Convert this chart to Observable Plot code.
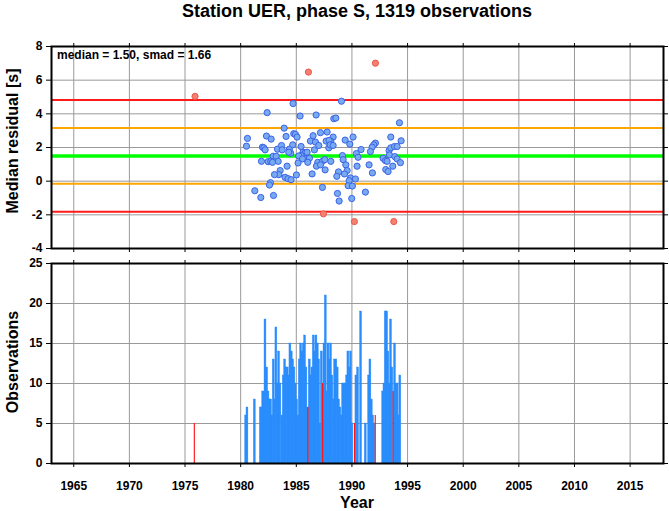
<!DOCTYPE html>
<html><head><meta charset="utf-8">
<script src="https://cdn.jsdelivr.net/npm/d3@7"></script>
<script src="https://cdn.jsdelivr.net/npm/@observablehq/plot@0.6"></script>
<style>
html,body{margin:0;padding:0;background:#fff;}
#wrap{position:relative;width:669px;height:511px;overflow:hidden;background:#fff;}
#wrap svg{position:absolute;left:0;}
</style></head><body>
<div id="wrap"></div>
<script>
// ---------- data ----------
const xTicks = [1965, 1970, 1975, 1980, 1985, 1990, 1995, 2000, 2005, 2010, 2015];
const resTicks = [-4, -2, 0, 2, 4, 6, 8];
const obsTicks = [0, 5, 10, 15, 20, 25];

const titleText = "Station UER, phase S, 1319 observations";
const statText = "median = 1.50, smad = 1.66";

// reference levels: median, median ± smad, median ± 2 smad
const levelValues = [4.82, 3.16, 1.50, -0.16, -1.82];
const levelKinds  = ["2smad", "1smad", "median", "1smad", "2smad"];

// median residuals (inside 2 smad)
const ptYear = [1984.71,1989.06,1982.38,1985.34,1986.78,1988.37,1988.55,1994.27,1983.91,1980.61,
1982.32,1982.74,1984.77,1984.92,1985.07,1984.08,1986.51,1987.17,1987.77,1988.31,
1988.10,1990.10,1989.39,1989.81,1993.49,1994.42,1980.52,1981.96,1982.08,1982.20,
1983.31,1983.67,1983.73,1984.38,1984.68,1986.27,1986.72,1986.63,1987.02,1987.68,
1987.95,1987.92,1988.04,1988.31,1985.43,1985.61,1985.79,1985.97,1984.50,1984.32,
1982.92,1983.19,1985.43,1985.22,1985.85,1986.18,1985.55,1992.11,1991.96,1991.81,
1991.66,1990.82,1990.40,1990.55,1993.34,1993.49,1993.82,1994.06,1993.37,1993.85,
1994.06,1994.36,1992.80,1993.01,1993.16,1989.15,1989.21,1989.45,1981.87,1982.47,
1982.71,1983.37,1982.86,1984.17,1985.16,1986.03,1986.93,1987.35,1987.56,1988.10,
1986.81,1987.17,1989.57,1988.79,1988.64,1989.33,1990.46,1991.54,1993.67,1993.04,
1993.25,1991.84,1983.55,1983.43,1983.04,1985.01,1986.42,1987.59,1983.99,1984.26,
1984.53,1989.87,1990.31,1989.75,1989.66,1990.04,1982.68,1982.59,1981.27,1981.81,
1982.95,1987.35,1988.70,1988.85,1989.98,1991.21];
const ptRes = [4.61,4.75,4.07,3.87,3.93,3.71,3.75,3.47,3.15,2.54,
2.68,2.50,2.82,2.78,2.62,2.66,2.70,2.88,2.92,2.62,
2.38,2.62,2.44,2.20,2.62,2.40,2.08,2.02,1.98,1.86,
1.90,2.12,1.86,1.90,2.16,2.38,2.32,1.86,2.12,2.38,
2.42,1.98,2.16,2.12,2.06,1.72,1.68,1.72,1.66,1.72,
1.48,1.48,1.52,1.50,1.32,1.36,1.32,2.26,2.16,2.02,
1.76,1.88,1.64,1.42,1.82,1.98,2.06,2.06,1.56,1.46,
1.32,1.10,1.36,1.22,1.18,1.52,1.28,0.97,1.18,1.16,
1.18,1.18,1.12,0.89,1.08,1.12,1.12,1.18,1.28,1.18,
0.89,0.97,0.63,0.55,0.29,0.43,0.89,0.97,0.89,0.69,
0.57,0.49,0.63,0.39,0.39,0.37,0.43,0.67,0.23,0.15,
0.09,0.19,0.13,0.03,-0.27,-0.29,-0.09,-0.23,-0.57,-0.97,
-0.85,-0.37,-0.73,-1.18,-1.03,-0.65];

// outliers (beyond 2 smad)
const outYear = [1975.90, 1986.09, 1992.11, 1987.44, 1990.22, 1993.76];
const outRes  = [5.04, 6.48, 7.01, -1.94, -2.40, -2.40];

// observations per time bin
const barYear = [1980.49,1980.61,1981.27,1981.81,1981.93,1982.02,1982.14,1982.23,1982.38,1982.50,
1982.62,1982.73,1982.85,1982.97,1983.09,1983.21,1983.33,1983.45,1983.57,1983.75,
1983.87,1983.99,1984.11,1984.23,1984.35,1984.47,1984.59,1984.71,1984.83,1984.95,
1985.07,1985.19,1985.31,1985.43,1985.55,1985.67,1985.79,1985.91,1986.03,1986.21,
1986.33,1986.45,1986.57,1986.69,1986.81,1986.93,1987.05,1987.17,1987.29,1987.53,
1987.65,1987.77,1987.89,1988.00,1988.12,1988.24,1988.36,1988.48,1988.60,1988.72,
1988.84,1988.96,1989.08,1989.20,1989.32,1989.44,1989.56,1989.68,1989.80,1989.92,
1990.04,1990.40,1990.55,1990.82,1991.24,1991.54,1991.66,1991.78,1991.90,1992.02,
1992.80,1992.92,1993.04,1993.16,1993.27,1993.39,1993.51,1993.63,1993.87,1993.99,
1994.11,1994.23,1994.35];
const barCount = [6,7,8,7,7,9,9,18,12,9,
8,8,6,13,8,17,10,14,10,6,
11,13,12,12,11,15,14,13,12,10,
8,6,13,15,14,15,16,12,7,13,
11,12,16,14,16,15,13,5,14,15,
21,9,15,13,15,11,8,13,13,12,
8,7,6,10,10,10,11,14,12,14,
5,11,12,19,5,11,13,8,6,5,
9,10,19,19,14,10,18,12,15,10,
10,6,11];
const redBarYear  = [1975.88, 1986.09, 1987.41, 1990.27, 1992.14, 1993.75];
const redBarCount = [5, 7, 10, 5, 6, 9];

// ---------- build ----------
const W = 669, ML = 51, MR = 6;
const font = "'Liberation Sans', Arial, Helvetica, sans-serif";
const levelColor = {"2smad": "#ff1a1a", "1smad": "#ffa500", "median": "#00ff00"};
const levelWidth = {"2smad": 2, "1smad": 2, "median": 3.5};
const pts = ptYear.map((y, i) => ({year: y, res: ptRes[i]}));
const outs = outYear.map((y, i) => ({year: y, res: outRes[i]}));
const levels = levelValues.map((v, i) => ({v, kind: levelKinds[i]}));
const bars = barYear.map((y, i) => ({year: y, n: barCount[i]}));
const redBars = redBarYear.map((y, i) => ({year: y, n: redBarCount[i]}));
const styleStr = `font: bold 12px ${font}; color: black; background: white; overflow: visible;`;

function frameAxes(yt) {
  const blank = () => "";
  return [
    Plot.frame({stroke: "black", strokeWidth: 2}),
    Plot.axisY(yt, {anchor: "left", tickSize: 5, tickPadding: 4, label: null, tickFormat: d => String(d)}),
    Plot.axisY(yt, {anchor: "right", tickSize: 4, tickFormat: blank, label: null}),
    Plot.axisX(xTicks, {anchor: "top", tickSize: 4, tickFormat: blank, label: null})
  ];
}

const topPlot = Plot.plot({
  width: W, height: 256, marginLeft: ML, marginRight: MR, marginTop: 46, marginBottom: 8,
  style: styleStr,
  x: {domain: [1963, 2018], label: null},
  y: {domain: [-4, 8], label: null},
  marks: [
    Plot.ruleX(xTicks, {stroke: "#9a9a9a", strokeWidth: 1}),
    Plot.ruleY(resTicks, {stroke: "#9a9a9a", strokeWidth: 1}),
    Plot.ruleY(levels, {y: "v", stroke: d => levelColor[d.kind], strokeWidth: d => levelWidth[d.kind]}),
    Plot.dot(pts, {x: "year", y: "res", r: 3.1, fill: "#78aaf2", stroke: "#3a62e6", strokeWidth: 1}),
    Plot.dot(outs, {x: "year", y: "res", r: 3.1, fill: "#f57f70", stroke: "#e85a4c", strokeWidth: 1}),
    ...frameAxes(resTicks),
    Plot.axisX(xTicks, {anchor: "bottom", tickSize: 4, tickFormat: () => "", label: null})
  ]
});

const botPlot = Plot.plot({
  width: W, height: 255, marginLeft: ML, marginRight: MR, marginTop: 7, marginBottom: 48,
  style: styleStr,
  x: {domain: [1963, 2018], label: null},
  y: {domain: [0, 25], label: null},
  marks: [
    Plot.ruleX(xTicks, {stroke: "#9a9a9a", strokeWidth: 1}),
    Plot.ruleY(obsTicks, {stroke: "#9a9a9a", strokeWidth: 1}),
    Plot.rectY(bars, {x1: d => d.year - 0.085, x2: d => d.year + 0.085, y1: 0, y2: "n", inset: 0, fill: "#2a8dfd", stroke: "#2a8dfd", strokeWidth: 0.4}),
    Plot.rectY(redBars, {x1: d => d.year - 0.05, x2: d => d.year + 0.05, y1: 0, y2: "n", inset: 0, fill: "#ff1010"}),
    ...frameAxes(obsTicks),
    Plot.axisX(xTicks, {anchor: "bottom", tickSize: 4, tickPadding: 14, label: null, tickFormat: d => String(d)})
  ]
});

const wrap = document.getElementById("wrap");
topPlot.style.top = "0px";
botPlot.style.top = "256px";
wrap.appendChild(topPlot);
wrap.appendChild(botPlot);

// overlay text
const ov = d3.select(wrap).append("svg")
  .attr("width", W).attr("height", 511)
  .style("top", "0px").style("pointer-events", "none")
  .style("font-family", font).style("font-weight", "bold").attr("fill", "black");
ov.append("text").attr("x", 357).attr("y", 17).attr("text-anchor", "middle").attr("font-size", 18).text(titleText);
ov.append("text").attr("x", 57).attr("y", 59).attr("font-size", 12).text(statText);
ov.append("text").attr("transform", "translate(17.5,141) rotate(-90)").attr("text-anchor", "middle").attr("font-size", 16).text("Median residual [s]");
ov.append("text").attr("transform", "translate(17.5,362) rotate(-90)").attr("text-anchor", "middle").attr("font-size", 16).text("Observations");
ov.append("text").attr("x", 357).attr("y", 508).attr("text-anchor", "middle").attr("font-size", 16).text("Year");
</script>
</body></html>
